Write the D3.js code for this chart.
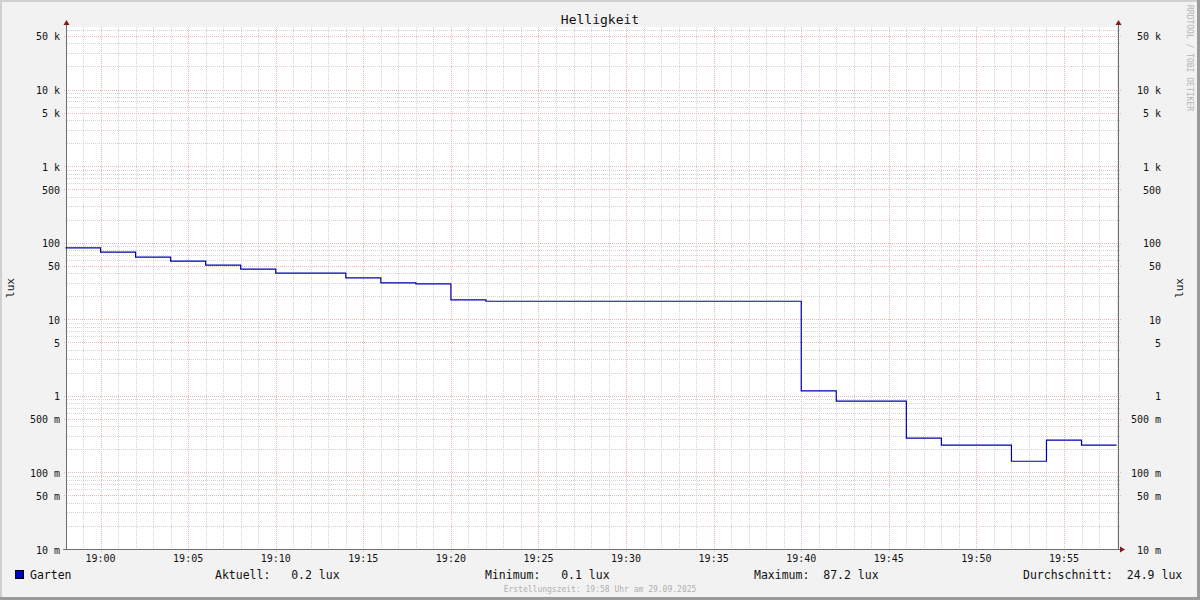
<!DOCTYPE html>
<html>
<head>
<meta charset="utf-8">
<script src="https://cdn.jsdelivr.net/npm/d3@7"></script>
<style>
    body { margin: 0; background: #f2f2f2; }
    svg text { font-family: "DejaVu Sans Mono", monospace; }
</style>
</head>
<body>
<svg id="chart" width="1200" height="600"></svg>
<script>
// step start times and values (lux), one sample every 2 min
const stepTimes = ["18:58", "19:00", "19:02", "19:04", "19:06", "19:08", "19:10", "19:14", "19:16", "19:18",
                   "19:20", "19:22", "19:40", "19:42", "19:46", "19:48", "19:52", "19:54", "19:56", "19:58"];
const luxValues = [85.5, 75.2, 64.7, 57.3, 50.8, 45.1, 40.0, 34.7, 29.9, 29.0,
                   17.9, 17.2, 1.16, 0.853, 0.28, 0.227, 0.14, 0.264, 0.227, 0.227];
const xTickLabels = ["19:00", "19:05", "19:10", "19:15", "19:20", "19:25", "19:30", "19:35", "19:40", "19:45", "19:50", "19:55"];
const yTickValues = [0.01, 0.05, 0.1, 0.5, 1, 5, 10, 50, 100, 500, 1000, 5000, 10000, 50000];
const yTickLabels = ["10 m", "50 m", "100 m", "500 m", "1", "5", "10", "50", "100", "500", "1 k", "5 k", "10 k", "50 k"];
const legendItems = [
    { label: "Aktuell:   0.2 lux", x: 215 },
    { label: "Minimum:   0.1 lux", x: 485 },
    { label: "Maximum:  87.2 lux", x: 754 },
    { label: "Durchschnitt:  24.9 lux", x: 1023 }
];

const width = 1200, height = 600;
const plotLeft = 67, plotRight = 1118, plotTop = 27, plotBottom = 549;
const lineColor = "#0000b0";
const arrowColor = "#7f1a1a";

const parseTime = d3.timeParse("%H:%M:%S");
const parseHM = d3.timeParse("%H:%M");
const data = stepTimes.map((t, i) => ({ time: parseHM(t), value: luxValues[i] }));

const svg = d3.select("#chart");

// background with rrdtool style frame
svg.append("rect").attr("width", width).attr("height", height).attr("fill", "#f2f2f2");
svg.append("path").attr("d", "M1,600 V1 H1200").attr("fill", "none").attr("stroke", "#d0d0d0").attr("stroke-width", 2);
svg.append("path").attr("d", "M0,598.5 H1198.5 V0").attr("fill", "none").attr("stroke", "#9a9a9a").attr("stroke-width", 3);

svg.append("rect")
    .attr("x", plotLeft).attr("y", plotTop)
    .attr("width", plotRight - plotLeft).attr("height", plotBottom - plotTop)
    .attr("fill", "white");

const xScale = d3.scaleTime()
    .domain([parseTime("18:58:05"), parseTime("19:58:05")])
    .range([plotLeft, plotRight]);

const yScale = d3.scaleLog()
    .domain([0.01, 65536])
    .range([plotBottom, plotTop]);

const grid = svg.append("g").attr("shape-rendering", "crispEdges");

// vertical grid: minor every minute, major every 5 min
const minuteTicks = d3.timeMinute.range(xScale.domain()[0], xScale.domain()[1]);
grid.selectAll(".vminor")
    .data(minuteTicks.filter(d => d.getMinutes() % 5 !== 0))
    .join("line")
        .attr("x1", d => Math.round(xScale(d)) + 0.5)
        .attr("x2", d => Math.round(xScale(d)) + 0.5)
        .attr("y1", plotTop).attr("y2", plotBottom)
        .attr("stroke", "#d4d4d4")
        .attr("stroke-dasharray", "1,1");

const majorTimes = xTickLabels.map(parseHM);
grid.selectAll(".vmajor")
    .data(majorTimes)
    .join("line")
        .attr("x1", d => Math.round(xScale(d)) + 0.5)
        .attr("x2", d => Math.round(xScale(d)) + 0.5)
        .attr("y1", plotTop).attr("y2", plotBottom + 3)
        .attr("stroke", "#ebb8b8")
        .attr("stroke-dasharray", "1,1");

// horizontal grid: minor at 1..9 x 10^n, major at 1 and 5 x 10^n
const minorY = [];
for (let e = -2; e <= 4; e++) {
    for (let m = 1; m <= 9; m++) {
        const v = m * Math.pow(10, e);
        if (v <= 65536 && m !== 1 && m !== 5) minorY.push(v);
    }
}
grid.selectAll(".hminor")
    .data(minorY)
    .join("line")
        .attr("x1", plotLeft).attr("x2", plotRight + 2)
        .attr("y1", d => Math.round(yScale(d)) + 0.5)
        .attr("y2", d => Math.round(yScale(d)) + 0.5)
        .attr("stroke", "#d4d4d4")
        .attr("stroke-dasharray", "1,1");

grid.selectAll(".hmajor")
    .data(yTickValues.slice(1))
    .join("line")
        .attr("x1", plotLeft - 3).attr("x2", plotRight + 3)
        .attr("y1", d => Math.round(yScale(d)) + 0.5)
        .attr("y2", d => Math.round(yScale(d)) + 0.5)
        .attr("stroke", "#ebb8b8")
        .attr("stroke-dasharray", "1,1");

// axes lines
const axes = svg.append("g").attr("shape-rendering", "crispEdges").attr("stroke", "#6e6e6e");
axes.append("line").attr("x1", plotLeft - 0.5).attr("x2", plotLeft - 0.5).attr("y1", plotTop - 4).attr("y2", plotBottom + 1);
axes.append("line").attr("x1", plotRight + 0.5).attr("x2", plotRight + 0.5).attr("y1", plotTop - 4).attr("y2", plotBottom + 1);
axes.append("line").attr("x1", plotLeft - 4).attr("x2", plotRight + 4).attr("y1", plotBottom + 0.5).attr("y2", plotBottom + 0.5);

// arrows
svg.append("path").attr("d", `M${plotLeft - 3.5},${plotTop - 2} L${plotLeft - 0.5},${plotTop - 7} L${plotLeft + 2.5},${plotTop - 2} Z`).attr("fill", arrowColor);
svg.append("path").attr("d", `M${plotRight - 2.5},${plotTop - 2} L${plotRight + 0.5},${plotTop - 7} L${plotRight + 3.5},${plotTop - 2} Z`).attr("fill", arrowColor);
svg.append("path").attr("d", `M${plotRight + 2},${plotBottom - 2.5} L${plotRight + 7},${plotBottom + 0.5} L${plotRight + 2},${plotBottom + 3.5} Z`).attr("fill", arrowColor);

// data line
const line = d3.line()
    .x(d => xScale(d.time))
    .y(d => yScale(d.value))
    .curve(d3.curveStepAfter);

svg.append("path")
    .datum(data)
    .attr("d", line)
    .attr("fill", "none")
    .attr("stroke", lineColor)
    .attr("stroke-width", 1.2);

// y tick labels both sides
svg.selectAll(".ylab-left")
    .data(yTickValues)
    .join("text")
        .attr("x", 60)
        .attr("y", d => yScale(d) + 4.5)
        .attr("text-anchor", "end")
        .attr("font-size", 10)
        .attr("fill", "#111")
        .text((d, i) => yTickLabels[i]);

svg.selectAll(".ylab-right")
    .data(yTickValues)
    .join("text")
        .attr("x", 1161)
        .attr("y", d => yScale(d) + 4.5)
        .attr("text-anchor", "end")
        .attr("font-size", 10)
        .attr("fill", "#111")
        .text((d, i) => yTickLabels[i]);

// x tick labels
svg.selectAll(".xlab")
    .data(majorTimes)
    .join("text")
        .attr("x", d => xScale(d))
        .attr("y", 562)
        .attr("text-anchor", "middle")
        .attr("font-size", 10)
        .attr("fill", "#111")
        .text((d, i) => xTickLabels[i]);

// title and axis labels
svg.append("text")
    .attr("x", 600).attr("y", 24)
    .attr("text-anchor", "middle")
    .attr("font-size", 13)
    .attr("fill", "#111")
    .text("Helligkeit");

svg.append("text")
    .attr("transform", "translate(14,288) rotate(-90)")
    .attr("text-anchor", "middle")
    .attr("font-size", 11)
    .attr("fill", "#111")
    .text("lux");

svg.append("text")
    .attr("transform", "translate(1183,288) rotate(-90)")
    .attr("text-anchor", "middle")
    .attr("font-size", 11)
    .attr("fill", "#111")
    .text("lux");

// watermark
svg.append("text")
    .attr("transform", "translate(1187,5) rotate(90)")
    .attr("font-size", 8)
    .attr("fill", "#b4b4b4")
    .text("RRDTOOL / TOBI OETIKER");

// legend
svg.append("rect")
    .attr("x", 15.5).attr("y", 570.5)
    .attr("width", 8).attr("height", 8)
    .attr("fill", "#0000cc")
    .attr("stroke", "#000");

svg.append("text")
    .attr("x", 30).attr("y", 579)
    .attr("font-size", 11.5)
    .attr("fill", "#111")
    .text("Garten");

svg.selectAll(".legend")
    .data(legendItems)
    .join("text")
        .attr("x", d => d.x)
        .attr("y", 579)
        .attr("font-size", 11.5)
        .attr("fill", "#111")
        .attr("xml:space", "preserve")
        .style("white-space", "pre")
        .text(d => d.label);

svg.append("text")
    .attr("x", 600).attr("y", 592)
    .attr("text-anchor", "middle")
    .attr("font-size", 8)
    .attr("fill", "#b0b0b0")
    .text("Erstellungszeit: 19:58 Uhr am 29.09.2025");
</script>
</body>
</html>
